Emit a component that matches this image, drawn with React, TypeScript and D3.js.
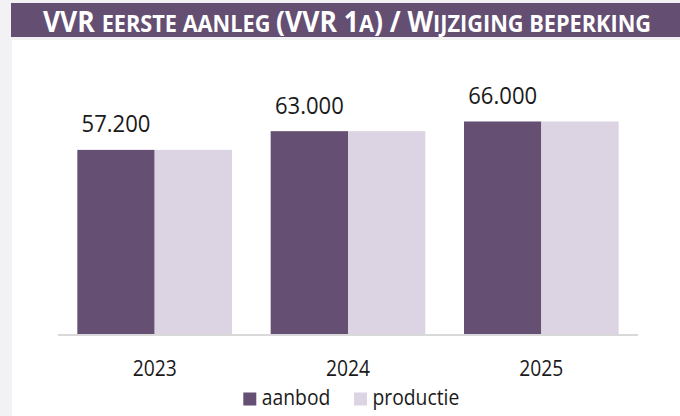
import React, { useLayoutEffect, useRef, useState } from "react";
import * as d3 from "d3";

const years = ["2023", "2024", "2025"];
const series = ["aanbod", "productie"];
const aanbod = [57200, 63000, 66000];
const productie = [57200, 63000, 66000];
const titleParts: [string, boolean][] = [
  ["VVR ", false],
  ["eerste aanleg ", true],
  ["(VVR 1", false],
  ["a", true],
  [") / W", false],
  ["ijziging beperking", true],
];

const W = 680;
const H = 416;
const COLORS = ["#654f72", "#dcd4e2"];
const nl = d3.formatLocale({ decimal: ",", thousands: ".", grouping: [3], currency: ["€", ""] });
const fmt = nl.format(",");

const FONT = "'Open Sans', 'Noto Sans', sans-serif";

function SText(props: { x: number; y: number; sx?: number; anchor?: string; size: number; children: React.ReactNode; fill?: string; weight?: number }) {
  const { x, y, sx = 0.9, anchor = "middle", size, children, fill = "#1a1a1a", weight = 400 } = props;
  return (
    <g transform={`translate(${x},${y}) scale(${sx},1)`}>
      <text x={0} y={0} textAnchor={anchor} fontSize={size} fontFamily={FONT} fill={fill} fontWeight={weight}>
        {children}
      </text>
    </g>
  );
}

export default function App() {
  const x0 = d3.scaleBand<string>().domain(years).range([58, 638]).paddingInner(0.2).paddingOuter(0.1);
  const x1 = d3.scaleBand<string>().domain(series).range([0, x0.bandwidth()]).padding(0);
  const y = d3.scaleLinear().domain([0, 80000]).range([334.5, 76.3]);
  const data = [aanbod, productie];

  const titleRef = useRef<SVGTextElement>(null);
  const [tScale, setTScale] = useState(0.93);
  useLayoutEffect(() => {
    if (titleRef.current) {
      const w = titleRef.current.getComputedTextLength();
      if (w > 0) setTScale(608 / w);
    }
  }, []);

  return (
    <svg width={W} height={H} style={{ position: "absolute", left: 0, top: 0 }}>
      <rect x={0} y={0} width={W} height={H} fill="#f2f1f3" />
      <rect x={12} y={40} width={W - 12} height={H - 40} fill="#ffffff" />
      <rect x={11} y={3} width={W - 11} height={34} fill="#644e72" />
      <g transform={`translate(347,31.5) scale(${tScale},1)`}>
        <text ref={titleRef} x={0} y={0} textAnchor="middle" fontFamily={FONT} fontWeight={700} fontSize={28} fill="#ffffff">
          {titleParts.map(([t, small], i) => (
            <tspan key={i} fontSize={small ? 23 : 28}>
              {small ? t.toUpperCase() : t}
            </tspan>
          ))}
        </text>
      </g>

      {years.map((yr, i) => (
        <g key={yr} transform={`translate(${x0(yr)},0)`}>
          {series.map((s, j) => (
            <rect
              key={s}
              x={x1(s)}
              y={y(data[j][i])}
              width={x1.bandwidth()}
              height={y(0) - y(data[j][i])}
              fill={COLORS[j]}
            />
          ))}
          <SText x={(x1("aanbod") ?? 0) + x1.bandwidth() / 2} y={y(aanbod[i]) - 17.5} size={24} sx={0.92}>
            {fmt(aanbod[i])}
          </SText>
        </g>
      ))}

      <line x1={58} x2={638} y1={335} y2={335} stroke="#d9d9d9" strokeWidth={2} />

      {years.map((yr) => (
        <SText key={yr} x={(x0(yr) ?? 0) + x0.bandwidth() / 2} y={375.5} size={22} sx={0.875}>
          {yr}
        </SText>
      ))}

      {series.map((s, j) => {
        const lx = [243.3, 354][j];
        return (
          <g key={s}>
            <rect x={lx} y={392.5} width={13} height={13} fill={COLORS[j]} />
            <SText x={lx + 18.5} y={405} size={21} anchor="start" sx={0.92}>
              {s}
            </SText>
          </g>
        );
      })}
    </svg>
  );
}
